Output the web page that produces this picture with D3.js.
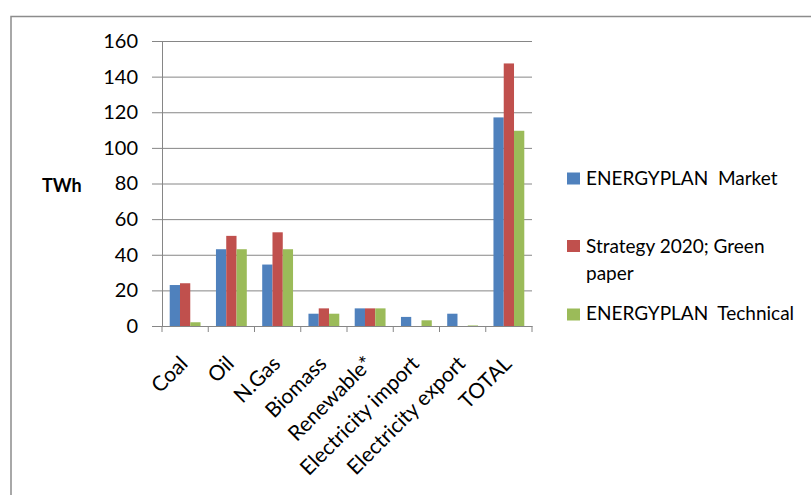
<!DOCTYPE html>
<html><head><meta charset="utf-8">
<script src="https://cdn.jsdelivr.net/npm/d3@7"></script>
<style>
body{margin:0;background:#fff;}
text{font-family:Lato,"Open Sans",sans-serif;fill:#000;}
</style></head>
<body><svg id="c" width="811" height="495"></svg>
<script>
const categories = ["Coal","Oil","N.Gas","Biomass","Renewable*","Electricity import","Electricity export","TOTAL"];
const seriesNames = ["ENERGYPLAN Market","Strategy 2020; Green paper","ENERGYPLAN Technical"];
const market    = [23.0, 43.1, 34.5, 6.9, 9.9, 5.1, 6.9, 117.1];
const strategy  = [24.0, 50.6, 52.6, 9.9, 9.9, 0, 0, 147.4];
const technical = [2.1, 43.1, 43.1, 6.9, 9.9, 3.2, 0.3, 109.6];
const yTicks = [0,20,40,60,80,100,120,140,160];
const colors = ["#4F81BD","#C0504D","#9BBB59"];

const svg = d3.select("#c");
// outer frame (top and left edges visible)
svg.append("path").attr("d","M11,495 L11,16.5 L811,16.5").attr("fill","none").attr("stroke","#8c8c8c").attr("stroke-width",1.5);

const x0 = d3.scaleBand().domain(categories).range([162,532]).padding(0);
const x1 = d3.scaleBand().domain([0,1,2]).range([0,x0.bandwidth()]).paddingInner(0).paddingOuter(0.75);
const y = d3.scaleLinear().domain([0,160]).range([326,41]);

// gridlines
const gy = svg.append("g").attr("transform","translate(532,0)");
gy.call(d3.axisLeft(y).tickValues(yTicks).tickSize(532-152).tickFormat(""));
gy.select(".domain").remove();
gy.selectAll("line").attr("stroke","#868686").attr("stroke-width",1);
// y axis
const gl = svg.append("g").attr("transform","translate(162,0)");
gl.call(d3.axisLeft(y).tickValues(yTicks).tickSize(0).tickPadding(24));
gl.select(".domain").attr("stroke","#868686");
gl.selectAll("text").style("font-size","20px").style("font-family","Lato");

// bars
const data = categories.map((c,i)=>({c, v:[market[i],strategy[i],technical[i]]}));
const g = svg.append("g");
data.forEach(d=>{
  d.v.forEach((v,j)=>{
    g.append("rect")
     .attr("x", x0(d.c)+x1(j))
     .attr("width", x1.bandwidth())
     .attr("y", y(v))
     .attr("height", y(0)-y(v))
     .attr("fill", colors[j]);
  });
});

// x axis
const gx = svg.append("g").attr("transform","translate(0,326)");
gx.call(d3.axisBottom(x0).tickSize(0).tickFormat(""));
gx.select(".domain").attr("stroke","#868686");
const bounds = [162].concat(categories.map(c=>x0(c)+x0.bandwidth()));
bounds.forEach(b=>gx.append("line").attr("x1",b).attr("x2",b).attr("y1",0).attr("y2",6).attr("stroke","#868686"));
categories.forEach(c=>{
  const cx = x0(c)+x0.bandwidth()/2;
  svg.append("text").attr("text-anchor","end")
    .attr("transform",`translate(${cx+4},${365}) rotate(-45)`)
    .style("font-size","21px").text(c);
});

// y title
svg.append("text").attr("x",42).attr("y",192).style("font-size","18px").style("font-weight","bold").text("TWh");

// legend
const leg = [
  {lines:["ENERGYPLAN  Market"], sq:172.5, base:[185]},
  {lines:["Strategy 2020; Green","paper"], sq:240, base:[252.5,280]},
  {lines:["ENERGYPLAN  Technical"], sq:308.5, base:[320]}
];
leg.forEach((l,i)=>{
  svg.append("rect").attr("x",567).attr("y",l.sq).attr("width",13).attr("height",12).attr("fill",colors[i]);
  l.lines.forEach((t,k)=>{
    svg.append("text").attr("x",586).attr("y",l.base[k]).style("font-size","19px").style("white-space","pre").text(t);
  });
});
</script></body></html>
